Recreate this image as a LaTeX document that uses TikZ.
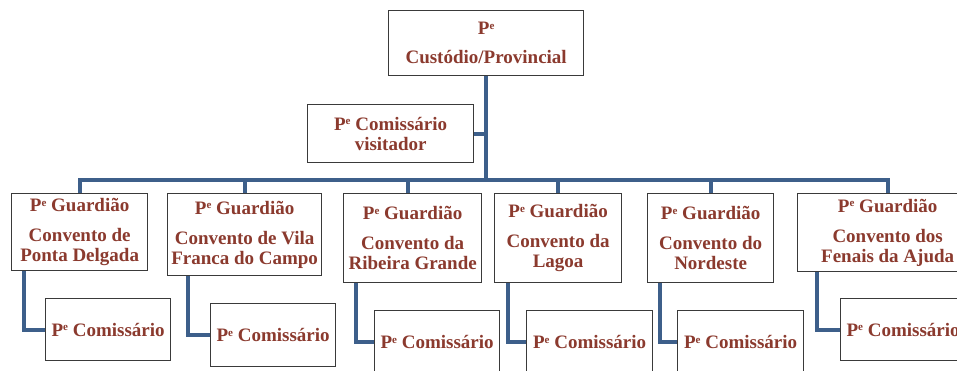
\documentclass[tikz,border=0pt]{standalone}
\usepackage{fontspec}
\setmainfont{Liberation Serif}
\usepackage{tikz}

\definecolor{nametext}{HTML}{8B3A2E}
\definecolor{linkblue}{HTML}{3D5F8A}
\definecolor{boxline}{HTML}{3A3A3A}
\newcommand{\padre}{P\raisebox{0.62ex}{\fontsize{11}{11}\selectfont e}}

\tikzset{
  office/.style = {draw = boxline, line width = 1.3pt, fill = white, anchor = north west,
    inner sep = 0pt, align = center, text = nametext,
    font = \fontsize{19}{20}\selectfont\bfseries},
  link/.style = {draw = linkblue, line width = 4pt}
}

\begin{document}
\begin{tikzpicture}[x = 1pt, y = -1pt]
    \useasboundingbox (0,0) rectangle (957,371);
    % Draw the boxes
    \node[office, minimum width = 195pt, minimum height = 65pt] (prov) at (388,10) {\padre\\[9pt] Custódio/Provincial};
    \node[office, minimum width = 166pt, minimum height = 58pt] (visit) at (307,104) {\padre{} Comissário\\ visitador};
    \node[office, minimum width = 136pt, minimum height = 77pt] (g1) at (11,193) {\padre{} Guardião\\[10pt] Convento de\\ Ponta Delgada};
    \node[office, minimum width = 154pt, minimum height = 82pt] (g2) at (167,193) {\padre{} Guardião\\[10pt] Convento de Vila\\ Franca do Campo};
    \node[office, minimum width = 138pt, minimum height = 89pt] (g3) at (343,193) {\padre{} Guardião\\[10pt] Convento da\\ Ribeira Grande};
    \node[office, minimum width = 127pt, minimum height = 89pt] (g4) at (494,193) {\padre{} Guardião\\[10pt] Convento da\\ Lagoa};
    \node[office, minimum width = 126pt, minimum height = 89pt] (g5) at (647,193) {\padre{} Guardião\\[10pt] Convento do\\ Nordeste};
    \node[office, minimum width = 180pt, minimum height = 78pt] (g6) at (797,193) {\padre{} Guardião\\[10pt] Convento dos\\ Fenais da Ajuda};
    \node[office, minimum width = 125pt, minimum height = 62pt] (c1) at (45,298) {\padre{} Comissário};
    \node[office, minimum width = 125pt, minimum height = 63pt] (c2) at (210,303) {\padre{} Comissário};
    \node[office, minimum width = 125pt, minimum height = 63pt] (c3) at (374,310) {\padre{} Comissário};
    \node[office, minimum width = 126pt, minimum height = 63pt] (c4) at (526,310) {\padre{} Comissário};
    \node[office, minimum width = 126pt, minimum height = 63pt] (c5) at (677,310) {\padre{} Comissário};
    \node[office, minimum width = 125pt, minimum height = 62pt] (c6) at (840,298) {\padre{} Comissário};
    % Draw the bus under the provincial
    \coordinate (bus) at (prov.south |- 0,180);
    \draw[link] (prov.south) -- (bus);
    \draw[link] (visit.east) -- (visit.east -| bus);
    \draw[link] (g1.north) |- (bus);
    \draw[link] (g2.north) |- (bus);
    \draw[link] ([xshift = -5pt]g3.north) |- (bus);
    \draw[link] (g4.north) |- (bus);
    \draw[link] (g5.north) |- (bus);
    \draw[link] (g6.north) |- (bus);
    % Draw the links down to the commissaries
    \draw[link] ([xshift = 13pt]g1.south west) |- (c1.west);
    \draw[link] ([xshift = 21pt]g2.south west) |- (c2.west);
    \draw[link] ([xshift = 13pt]g3.south west) |- (c3.west);
    \draw[link] ([xshift = 14pt]g4.south west) |- (c4.west);
    \draw[link] ([xshift = 13pt]g5.south west) |- (c5.west);
    \draw[link] ([xshift = 20pt]g6.south west) |- (c6.west);
\end{tikzpicture}
\end{document}
